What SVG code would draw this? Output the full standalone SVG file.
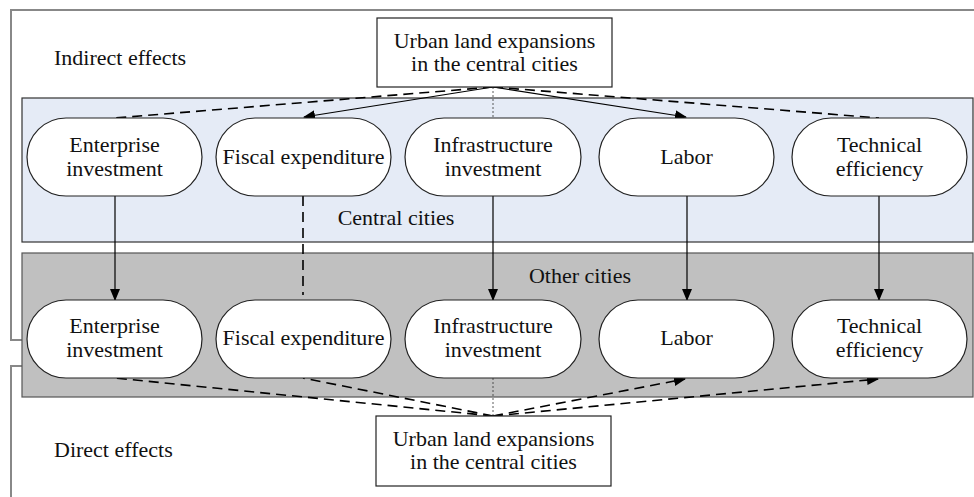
<svg xmlns="http://www.w3.org/2000/svg" width="974" height="497" viewBox="0 0 974 497">
<defs>
<marker id="arr" markerWidth="12" markerHeight="10" refX="11" refY="5" orient="auto" markerUnits="userSpaceOnUse">
<path d="M0,0 L12,5 L0,10 Z" fill="#000"/>
</marker>
<style>
text{font-family:"Liberation Serif","Times New Roman",serif;font-size:22px;fill:#111;}
.c{text-anchor:middle;}
.pill{fill:#fff;stroke:#222;stroke-width:1.2;}
.box{fill:#fff;stroke:#222;stroke-width:1.2;}
.solid{fill:none;stroke:#000;stroke-width:1.2;}
.dash{fill:none;stroke:#000;stroke-width:1.6;stroke-dasharray:10,6;}
.dot{fill:none;stroke:#333;stroke-width:0.8;stroke-dasharray:2,2;}
.bracket{fill:none;stroke:#888;stroke-width:2;}
</style>
</defs>
<rect width="974" height="497" fill="#fff"/>
<g id="brackets">
<polyline class="bracket" points="974,10 11,10 11,340 22,340"/>
<polyline class="bracket" points="22,366 11,366 11,497"/>
</g>
<g id="central-cities">
<rect x="22" y="98" width="951" height="144" fill="#E5EBF6" stroke="#333" stroke-width="1.2"/>
<text class="c" x="396" y="225">Central cities</text>
</g>
<g id="other-cities">
<rect x="22" y="253" width="951" height="144" fill="#C0C0C0" stroke="#555" stroke-width="1.2"/>
<text class="c" x="580" y="283">Other cities</text>
</g>
<g id="labels">
<text x="54" y="65">Indirect effects</text>
<text x="54" y="457">Direct effects</text>
</g>
<g id="connectors">
<line class="dash" x1="493" y1="87" x2="115" y2="118"/>
<line class="solid" x1="493" y1="87" x2="304" y2="117" marker-end="url(#arr)"/>
<line class="dot" x1="493" y1="87" x2="493" y2="118"/>
<line class="solid" x1="493" y1="87" x2="686" y2="117" marker-end="url(#arr)"/>
<line class="dash" x1="493" y1="87" x2="879" y2="118"/>
<line class="solid" x1="115" y1="196" x2="115" y2="300" marker-end="url(#arr)"/>
<line class="dash" x1="303" y1="196" x2="303" y2="295"/>
<line class="solid" x1="493" y1="196" x2="493" y2="300" marker-end="url(#arr)"/>
<line class="solid" x1="687" y1="196" x2="687" y2="300" marker-end="url(#arr)"/>
<line class="solid" x1="879" y1="196" x2="879" y2="300" marker-end="url(#arr)"/>
<line class="dash" x1="493" y1="416" x2="115" y2="378"/>
<line class="dash" x1="493" y1="416" x2="303" y2="378"/>
<line class="dot" x1="493" y1="378" x2="493" y2="416"/>
<line class="dash" x1="493" y1="416" x2="685" y2="379" marker-end="url(#arr)"/>
<line class="dash" x1="493" y1="416" x2="878" y2="379" marker-end="url(#arr)"/>
</g>
<g id="top-source">
<rect class="box" x="377" y="18" width="235" height="69"/>
<text class="c" x="494.5" y="48">Urban land expansions</text>
<text class="c" x="494.5" y="71">in the central cities</text>
</g>
<g id="bottom-source">
<rect class="box" x="376" y="416" width="235" height="70"/>
<text class="c" x="493.5" y="446">Urban land expansions</text>
<text class="c" x="493.5" y="469">in the central cities</text>
</g>
<g id="c-enterprise">
<rect class="pill" x="27" y="118" width="175" height="78" rx="39"/>
<text class="c" x="114.5" y="152">Enterprise</text>
<text class="c" x="114.5" y="176">investment</text>
</g>
<g id="c-fiscal">
<rect class="pill" x="216" y="118" width="175" height="78" rx="39"/>
<text class="c" x="303.5" y="164">Fiscal expenditure</text>
</g>
<g id="c-infrastructure">
<rect class="pill" x="405" y="118" width="176" height="78" rx="39"/>
<text class="c" x="493" y="152">Infrastructure</text>
<text class="c" x="493" y="176">investment</text>
</g>
<g id="c-labor">
<rect class="pill" x="599" y="118" width="175" height="78" rx="39"/>
<text class="c" x="686.5" y="164">Labor</text>
</g>
<g id="c-technical">
<rect class="pill" x="792" y="118" width="175" height="78" rx="39"/>
<text class="c" x="879.5" y="152">Technical</text>
<text class="c" x="879.5" y="176">efficiency</text>
</g>
<g id="o-enterprise">
<rect class="pill" x="27" y="300" width="175" height="78" rx="39"/>
<text class="c" x="114.5" y="333">Enterprise</text>
<text class="c" x="114.5" y="357">investment</text>
</g>
<g id="o-fiscal">
<rect class="pill" x="216" y="300" width="175" height="78" rx="39"/>
<text class="c" x="303.5" y="345">Fiscal expenditure</text>
</g>
<g id="o-infrastructure">
<rect class="pill" x="405" y="300" width="176" height="78" rx="39"/>
<text class="c" x="493" y="333">Infrastructure</text>
<text class="c" x="493" y="357">investment</text>
</g>
<g id="o-labor">
<rect class="pill" x="599" y="300" width="175" height="78" rx="39"/>
<text class="c" x="686.5" y="345">Labor</text>
</g>
<g id="o-technical">
<rect class="pill" x="792" y="300" width="175" height="78" rx="39"/>
<text class="c" x="879.5" y="333">Technical</text>
<text class="c" x="879.5" y="357">efficiency</text>
</g>
</svg>
